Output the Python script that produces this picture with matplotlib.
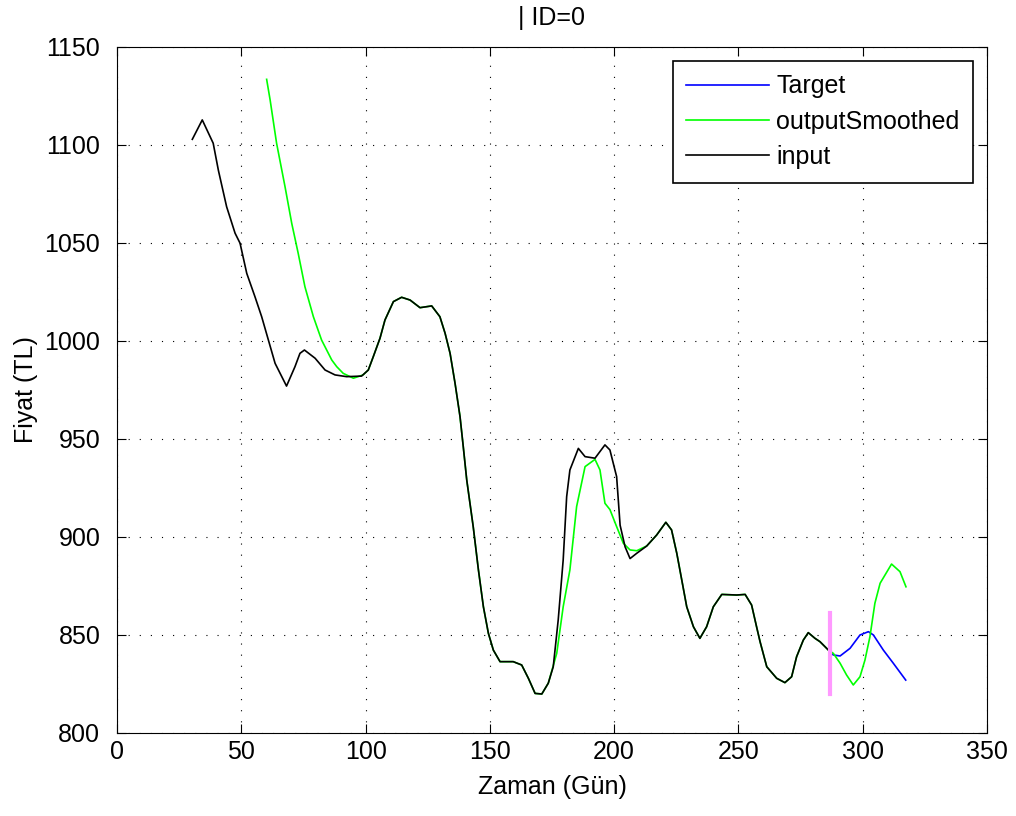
import matplotlib
matplotlib.use("Agg")
import matplotlib.pyplot as plt
import numpy as np

# input series (black)
input_days = [30.3, 34.3, 38.7, 40.8, 44.1, 47.5, 49.5, 52.2, 55.5, 58.2, 60.9, 63.6,
              68.2, 71.6, 73.6, 75.4, 79.7, 83.7, 87.7, 92.4, 98.4, 101.1, 103.1, 105.8,
              107.8, 111.2, 114.5, 117.9, 121.9, 126.6, 129.9, 132.0, 134.0, 136.0, 138.0,
              139.3, 140.7, 142.0, 143.3, 145.4, 147.4, 149.4, 151.4, 154.1, 159.4, 162.8,
              165.5, 168.2, 170.9, 173.5, 175.5, 177.5, 179.5, 180.9, 182.2, 185.6, 188.3,
              192.3, 196.3, 198.3, 201.0, 202.4, 204.4, 206.4, 209.1, 213.1, 217.1, 220.8,
              223.1, 225.2, 227.2, 229.2, 231.9, 234.5, 237.2, 239.9, 243.3, 249.3, 252.7,
              255.3, 257.3, 258.7, 261.4, 265.4, 268.7, 271.4, 273.4, 276.1, 278.1, 280.8,
              282.8, 286.2, 287.0]
input_vals = [1102.9, 1112.8, 1100.9, 1087.0, 1068.5, 1055.0, 1049.9, 1034.5, 1022.6, 1012.4,
              1000.5, 988.6, 977.0, 986.9, 993.7, 995.4, 991.2, 985.2, 982.7, 981.8, 982.1,
              985.2, 992.0, 1001.4, 1010.7, 1020.1, 1022.3, 1020.9, 1017.0, 1017.9, 1012.4,
              1003.9, 993.7, 978.4, 961.4, 946.1, 929.1, 917.2, 905.3, 883.2, 864.4, 850.9,
              842.3, 836.4, 836.4, 834.7, 827.9, 820.2, 819.9, 825.4, 833.8, 857.7, 888.3,
              920.6, 934.2, 945.2, 941.0, 940.2, 947.0, 944.4, 930.8, 906.0, 895.0, 889.0,
              891.7, 895.4, 901.0, 907.5, 903.6, 891.7, 878.1, 864.4, 854.2, 848.3, 854.2,
              864.4, 870.7, 870.4, 870.7, 865.3, 854.2, 846.6, 833.8, 827.9, 825.7, 828.7,
              838.9, 847.4, 851.2, 848.3, 846.6, 842.3, 841.0]

# outputSmoothed (green): parts where it leaves the input curve
smooth_head_days = [60.2, 61.6, 64.2, 67.6, 70.3, 72.9, 75.6, 79.0, 82.3, 86.4, 88.4, 91.0, 95.1, 99.0]
smooth_head_vals = [1133.5, 1123.0, 1100.9, 1078.7, 1060.0, 1044.7, 1027.7, 1012.4, 1000.5,
                    990.3, 986.9, 983.5, 981.0, 982.7]
smooth_mid_days = [176.9, 179.5, 182.2, 184.9, 188.3, 192.3, 194.3, 196.3, 198.3, 201.0,
                   203.7, 206.4, 209.1]
smooth_mid_vals = [840.6, 864.4, 883.2, 915.5, 935.9, 939.6, 934.2, 917.2, 914.0, 905.3,
                   896.8, 893.4, 893.0]
smooth_tail_days = [288.2, 290.9, 293.5, 296.2, 298.9, 300.9, 302.9, 304.9, 307.0, 311.6, 315.0, 317.4]
smooth_tail_vals = [840.6, 835.6, 829.6, 824.5, 828.7, 837.2, 849.1, 866.2, 876.4, 886.2, 882.3, 874.6]

# Target (blue)
target_days = [287.0, 288.2, 290.9, 294.9, 298.9, 302.3, 304.3, 308.3, 312.3, 317.3]
target_vals = [841.0, 839.8, 839.3, 843.2, 850.0, 851.7, 850.0, 842.3, 835.6, 827.0]

# forecast start marker
split_day = 287
split_range = [820, 861]

d = np.array(input_days)
v = np.array(input_vals)
m1 = (d > 100) & (d < 175)
m2 = (d > 210) & (d < 287)
smooth_days = np.concatenate([smooth_head_days, d[m1], smooth_mid_days, d[m2], smooth_tail_days])
smooth_vals = np.concatenate([smooth_head_vals, v[m1], smooth_mid_vals, v[m2], smooth_tail_vals])

plt.rcParams["font.family"] = ["Liberation Sans", "DejaVu Sans"]
fs = 18

fig = plt.figure(figsize=(10.16, 8.16), dpi=100)
ax = fig.add_axes([117 / 1016, 83 / 816, 870 / 1016, 686 / 816])

ax.plot(target_days, target_vals, color=(0, 0, 1), lw=1.2, label="Target")
ax.plot(smooth_days, smooth_vals, color=(0, 1, 0), lw=1.2, label="outputSmoothed")
ax.plot(input_days, input_vals, color="black", lw=1.2, label="input")
ax.plot([split_day, split_day], split_range, color="#ff99ff", lw=3)

ax.set_xlim(0, 350)
ax.set_ylim(800, 1150)
ax.set_xticks(np.arange(0, 351, 50))
ax.set_yticks(np.arange(800, 1151, 50))
ax.grid(True, color="black", lw=0.8, linestyle=(0, (1, 9)))
ax.tick_params(direction="in", length=6.3, width=0.8, top=True, right=True,
               labelsize=fs, colors="black")
ax.tick_params(axis="x", pad=5)
ax.tick_params(axis="y", pad=12)
for s in ax.spines.values():
    s.set_linewidth(0.8)

ax.set_xlabel("Zaman (Gün)", fontsize=fs, labelpad=8)
ax.set_ylabel("Fiyat (TL)", fontsize=fs, labelpad=5)
ax.set_title("| ID=0", fontsize=fs, pad=16)

leg = ax.legend(loc="upper right", fontsize=fs, handlelength=3.3, labelspacing=0.45,
                borderaxespad=0.55, fancybox=False, framealpha=1, edgecolor="black",
                handletextpad=0.3, borderpad=0.55)
leg.get_frame().set_linewidth(1.2)

fig.savefig("out.png", dpi=100, facecolor="white")
